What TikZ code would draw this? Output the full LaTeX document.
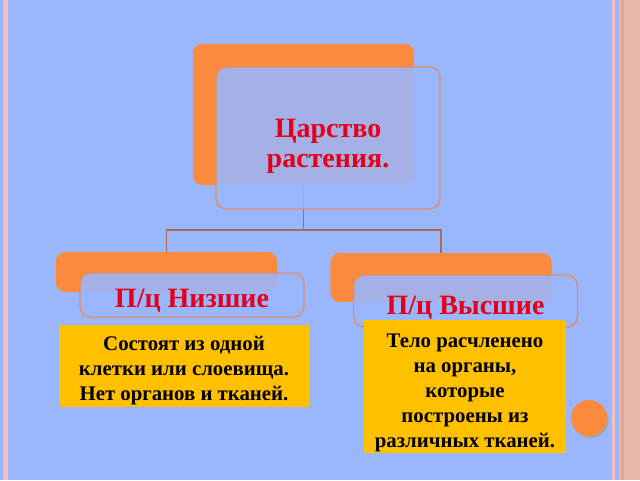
\documentclass[tikz,border=0pt]{standalone}
\usepackage{fontspec}
\setmainfont{Liberation Serif}
\definecolor{slideblue}{RGB}{154,183,254}
\definecolor{boxorange}{RGB}{250,138,62}
\definecolor{boxedge}{RGB}{226,140,104}
\definecolor{linkbrown}{RGB}{168,108,86}
\definecolor{notegold}{RGB}{255,192,0}
\definecolor{titlered}{RGB}{228,0,27}
\definecolor{stripepink}{RGB}{246,190,192}
\definecolor{stripesalmon}{RGB}{232,182,166}
\def\boxwidth{168pt}
\def\backwidth{166pt}

\begin{document}
\begin{tikzpicture}[x=0.75pt,y=-0.75pt]
    \tikzstyle{back box}=[rectangle, rounded corners=7pt, fill=boxorange, inner sep=0pt]
    \tikzstyle{front box}=[rectangle, rounded corners=8pt, draw=boxedge, line width=1.1pt, fill=slideblue, fill opacity=0.88, inner sep=0pt, minimum width=\boxwidth]
    \tikzstyle{title}=[text=titlered, font=\fontsize{21}{22.5}\selectfont\bfseries, align=center, inner sep=0pt]
    \tikzstyle{note}=[rectangle, fill=notegold, inner sep=0pt]
    \tikzstyle{note text}=[font=\fontsize{15.6}{18.75}\selectfont\bfseries, align=center, inner sep=0pt]
    \tikzstyle{link}=[draw=linkbrown, line width=1.1pt]

    % Draw the slide background and side stripes
    \fill[slideblue] (0,0) rectangle (640,480);
    \useasboundingbox (0,0) rectangle (640,480);
    \fill[stripepink] (3,0) rectangle (8,480);
    \fill[stripepink] (612,0) rectangle (615,480);
    \fill[stripesalmon] (619,0) rectangle (640,480);
    \fill[boxedge!80] (621,0) rectangle (624,480);

    % Draw the back boxes
    \path node[back box, minimum width=\backwidth, minimum height=105.75pt] (K-back) at (303.5,114.5) {};
    \path node[back box, minimum width=\backwidth, minimum height=30pt] (L-back) at (166.5,272) {};
    \path node[back box, minimum width=\backwidth, minimum height=36.75pt] (H-back) at (441,277.5) {};

    % Draw the connectors
    \coordinate (J) at (303.5,230);
    \draw[link] (K-back.south) -- (J) -| (L-back.north);
    \draw[link] (J) -| (H-back.north);

    % Draw the front boxes
    \path node[front box, minimum height=106.5pt,
        label={[title, yshift=-6pt]center:{Царство\\растения.}}] (K) at (328,138) {};
    \path node[front box, minimum height=33pt,
        label={[title, yshift=-4.5pt]center:{П/ц Низшие}}] (L) at (192,295) {};
    \path node[front box, minimum height=39pt,
        label={[title, yshift=-5.2pt]center:{П/ц Высшие}}] (H) at (465.5,301) {};

    % Draw the notes
    \path node[note, minimum width=187.5pt, minimum height=61.5pt,
        label={[note text, yshift=-3.5pt]center:{Состоят из одной\\клетки или слоевища.\\Нет органов и тканей.}}] (L-note) at (184,366) {};
    \path node[note, minimum width=151.5pt, minimum height=99.75pt,
        label={[note text, yshift=-4.5pt]center:{Тело расчленено\\на органы,\\которые\\построены из\\различных тканей.}}] (H-note) at (465,386.5) {};

    % Draw the dot
    \path node[circle, fill=gray!70, minimum size=27pt] (D-shadow) at (590.5,420) {};
    \path node[circle, fill=boxorange, minimum size=27pt] (D) at (589,418) {};
\end{tikzpicture}
\end{document}
